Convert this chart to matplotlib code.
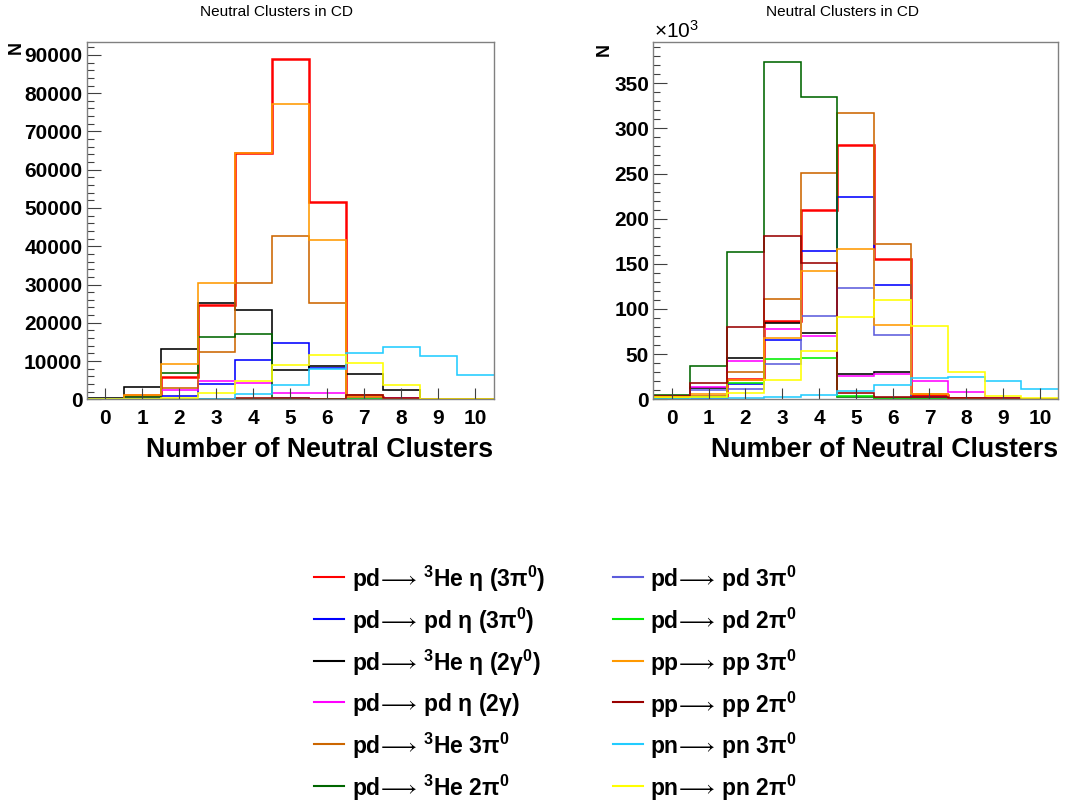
import numpy as np
import matplotlib
matplotlib.use('Agg')
import matplotlib.pyplot as plt
from matplotlib import font_manager
from matplotlib.lines import Line2D
from matplotlib.ticker import MultipleLocator

# ---- data: counts per number of neutral clusters (bins 0..10) ----
bins = np.arange(0, 11)

ARR = r'$\!\longrightarrow\!$ '
labels = [
    'pd' + ARR + r'$^{\mathbf{3}}$He η (3π$^{\mathbf{0}}$)',
    'pd' + ARR + r'pd η (3π$^{\mathbf{0}}$)',
    'pd' + ARR + r'$^{\mathbf{3}}$He η (2γ$^{\mathbf{0}}$)',
    'pd' + ARR + r'pd η (2γ)',
    'pd' + ARR + r'$^{\mathbf{3}}$He 3π$^{\mathbf{0}}$',
    'pd' + ARR + r'$^{\mathbf{3}}$He 2π$^{\mathbf{0}}$',
    'pd' + ARR + r'pd 3π$^{\mathbf{0}}$',
    'pd' + ARR + r'pd 2π$^{\mathbf{0}}$',
    'pp' + ARR + r'pp 3π$^{\mathbf{0}}$',
    'pp' + ARR + r'pp 2π$^{\mathbf{0}}$',
    'pn' + ARR + r'pn 3π$^{\mathbf{0}}$',
    'pn' + ARR + r'pn 2π$^{\mathbf{0}}$',
]
colors = ['#ff0000', '#0000ff', '#000000', '#ff00ff', '#cc6600', '#006600',
          '#5c5cdc', '#00ee00', '#ff9900', '#990000', '#22ccff', '#ffff00']

# left panel (counts)
left_red     = [0, 1100, 5700, 24600, 64300, 88900, 51600, 700, 0, 0, 0]
left_blue    = [0, 0, 870, 4000, 10300, 14800, 8300, 300, 0, 0, 0]
left_black   = [400, 3100, 13100, 25200, 23300, 7650, 8700, 6600, 2300, 0, 0]
left_magenta = [0, 700, 2400, 4900, 4300, 1570, 1570, 200, 350, 0, 0]
left_brown   = [0, 800, 2900, 12300, 30500, 42800, 25100, 1000, 0, 0, 0]
left_dkgreen = [200, 700, 6800, 16300, 17000, 200, 0, 0, 0, 0, 0]
left_slate   = [0, 0, 0, 100, 200, 300, 200, 0, 0, 0, 0]
left_green   = [0, 0, 100, 200, 100, 0, 0, 0, 0, 0, 0]
left_orange  = [0, 1000, 9100, 30500, 64300, 77200, 41600, 700, 0, 0, 0]
left_dkred   = [0, 0, 0, 0, 350, 260, 200, 1000, 300, 0, 0]
left_cyan    = [0, 0, 200, 200, 1300, 3700, 7900, 12000, 13700, 11400, 6350]
left_yellow  = [0, 200, 400, 1570, 4900, 9000, 11600, 9600, 3700, 0, 0]

# right panel (counts / 1000)
right_red     = [1, 2, 22.5, 87, 210, 282, 155, 5, 1, 0, 0]
right_blue    = [0.5, 1, 17, 65.7, 164.6, 224.4, 126.7, 3, 0.5, 0, 0]
right_black   = [1, 12, 46, 85, 73.9, 28, 30.3, 3, 0.5, 0, 0]
right_magenta = [1, 13.3, 42.5, 78, 70.2, 25.8, 28, 20.3, 8.5, 1, 0]
right_brown   = [1, 3.7, 30, 110.8, 251, 317, 172, 5.9, 0.5, 0, 0]
right_dkgreen = [4.8, 37.3, 163, 373, 335, 2, 1, 0.3, 0, 0, 0]
right_slate   = [0.5, 10, 11.5, 39, 92.7, 123, 71.3, 3, 0.5, 0, 0]
right_green   = [0.5, 2, 18.5, 44.7, 46, 4, 0.5, 0, 0, 0, 0]
right_orange  = [2, 5.9, 21.4, 68.3, 142.5, 166.5, 82.7, 5.9, 0.5, 0, 0]
right_dkred   = [3.7, 18.5, 80.5, 181, 150.7, 6.6, 3, 3, 1, 1, 0]
right_cyan    = [0.3, 1, 1, 3, 4.8, 8.9, 16.2, 23.3, 25.1, 20.7, 11.4]
right_yellow  = [2, 3, 6.6, 21.4, 54, 91.6, 109.7, 81.2, 30.3, 4, 1.5]

left_series = [left_red, left_blue, left_black, left_magenta, left_brown, left_dkgreen,
               left_slate, left_green, left_orange, left_dkred, left_cyan, left_yellow]
right_series = [right_red, right_blue, right_black, right_magenta, right_brown, right_dkgreen,
                right_slate, right_green, right_orange, right_dkred, right_cyan, right_yellow]

# ---- fonts ----
names = {f.name for f in font_manager.fontManager.ttflist}
narrow = 'Liberation Sans Narrow' in names
axfont = 'Liberation Sans Narrow' if narrow else 'Liberation Sans'
k = 1.0 if narrow else 0.86

plt.rcParams.update({
    'font.family': ['Liberation Sans', 'DejaVu Sans'],
    'mathtext.fontset': 'custom',
    'mathtext.rm': 'Liberation Sans',
    'mathtext.bf': 'Liberation Sans:bold',
    'mathtext.it': 'Liberation Sans:italic',
    'mathtext.fallback': 'stixsans',
})

W, H = 1083, 807
fig = plt.figure(figsize=(W / 100, H / 100), dpi=100, facecolor='white')

frame = '#808080'
edges = np.arange(-0.5, 11.0, 1.0)


def panel(rect, series, ymax, ystep, yminor):
    ax = fig.add_axes(rect)
    for i, vals in enumerate(series):
        lw = 1.8 if i == 0 else 1.15
        ax.stairs(vals, edges, color=colors[i], linewidth=lw, baseline=None)
    ax.set_xlim(-0.5, 10.5)
    ax.set_ylim(0, ymax)
    ax.set_xticks(bins)
    ax.yaxis.set_major_locator(MultipleLocator(ystep))
    ax.yaxis.set_minor_locator(MultipleLocator(yminor))
    ax.tick_params(axis='both', which='both', direction='in', color='#404040')
    ax.tick_params(axis='y', which='major', length=10, width=0.8, pad=3)
    ax.tick_params(axis='y', which='minor', length=5, width=0.8)
    ax.tick_params(axis='x', which='major', length=8, width=0.8, pad=7)
    for lab in ax.get_xticklabels() + ax.get_yticklabels():
        lab.set_fontfamily(axfont)
        lab.set_fontweight('bold')
        lab.set_fontsize(17.5 * k)
    for s in ax.spines.values():
        s.set_color(frame)
        s.set_linewidth(1.0)
    ax.text(1.0, -0.105, 'Number of Neutral Clusters', transform=ax.transAxes,
            ha='right', va='top', fontfamily=axfont, fontweight='bold',
            fontsize=23.5 * 0.82)
    return ax


axL = panel([86.5 / W, 1 - 399.3 / H, 407 / W, 357.6 / H],
            left_series, 93450, 10000, 2000)
axR = panel([653.3 / W, 1 - 399.3 / H, 405 / W, 357.6 / H],
            right_series, 396, 50, 10)

# titles and axis labels (ROOT-style placement)
for xc in (276, 843):
    fig.text(xc / W, 1 - 12 / H, 'Neutral Clusters in CD', ha='center', va='center',
             fontfamily=axfont, fontsize=13.5 * 0.82)
fig.text(16 / W, 1 - 48 / H, 'N', rotation=90, ha='center', va='center',
         fontweight='bold', fontsize=13)
fig.text(604 / W, 1 - 49 / H, 'N', rotation=90, ha='center', va='center',
         fontweight='bold', fontsize=13)
fig.text(654 / W, 1 - 38 / H, r'$\times$10$^{3}$', ha='left', va='baseline',
         fontsize=15)

# legend drawn beneath the panels, two columns of six
for i, (lab, col) in enumerate(zip(labels, colors)):
    c, r = divmod(i, 6)
    x0 = [314, 613][c]
    xt = [352, 650][c]
    y = 577 + r * 41.8
    fig.add_artist(Line2D([x0 / W, (x0 + 30) / W], [1 - y / H, 1 - y / H],
                          color=col, linewidth=1.5, transform=fig.transFigure))
    fig.text(xt / W, 1 - (y + 2) / H, lab, ha='left', va='center',
             fontweight='bold', fontsize=16.5)

fig.savefig('out.png', dpi=100, facecolor='white')
